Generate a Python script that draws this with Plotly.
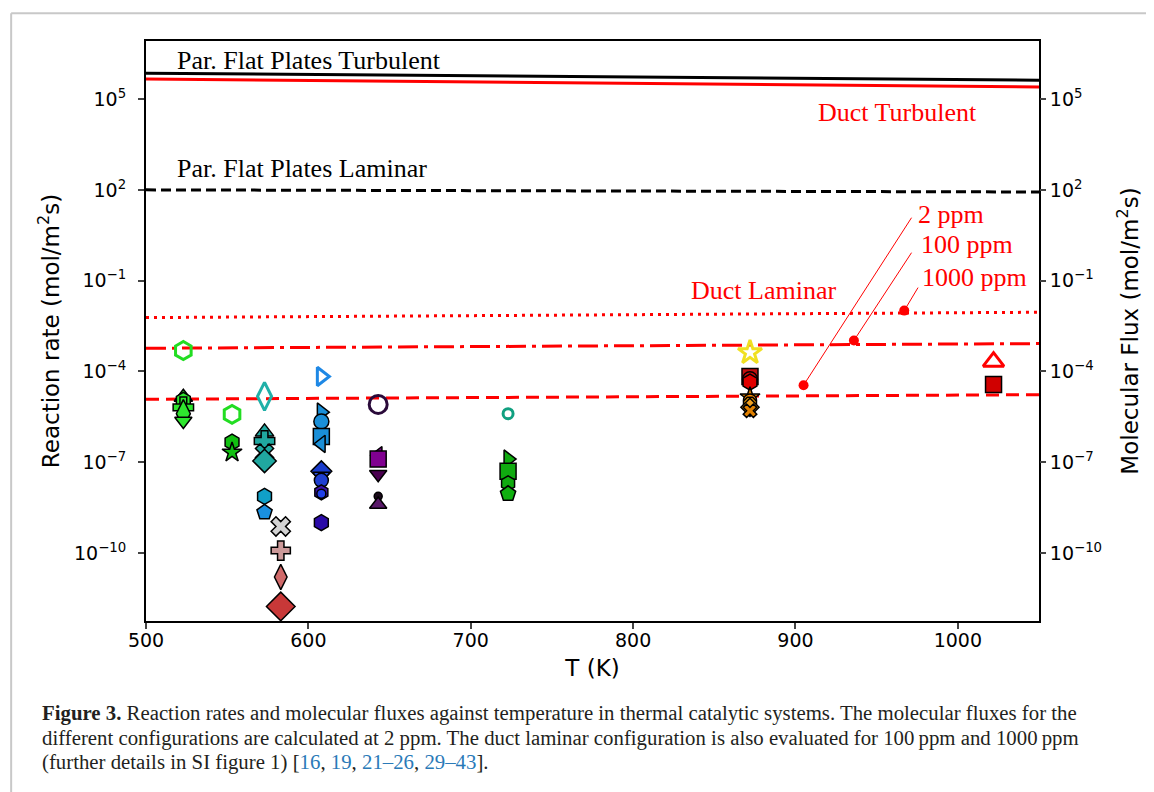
import plotly.graph_objects as go

# ---------------- data ----------------
# model lines (value at T = 500 K and T = 1050 K)
line_T = [500, 1050]
ppt_turbulent = [7.2e5, 4.2e5]
duct_turbulent = [4.6e5, 2.5e5]
ppl_laminar = [100, 85]
duct_laminar_1000 = [6.0e-3, 9.0e-3]
duct_laminar_100 = [5.8e-4, 8.3e-4]
duct_laminar_2 = [1.2e-5, 1.7e-5]

# annotated points on duct laminar lines
ppm_labels = ["2 ppm", "100 ppm", "1000 ppm"]
ppm_point_T = [905, 936, 967]
ppm_point_val = [3.5e-5, 1.05e-3, 1.02e-2]

# literature reaction rates
rate_T = [523, 523, 523, 523, 523, 523,
          553, 553, 553,
          573, 573, 573, 573, 573, 573, 573,
          583, 583, 583, 583,
          608, 608, 608, 608, 608, 608, 608, 608, 608, 608, 608,
          643, 643, 643, 643, 643, 643,
          723, 723, 723, 723, 723,
          872, 872, 872, 872, 872, 872, 872, 872, 872,
          1022, 1022]
rate_val = [4.9e-4, 1.4e-5, 1.1e-5, 6.5e-6, 4.0e-6, 2.3e-6,
            3.8e-6, 4.6e-7, 2.1e-7,
            1.5e-5, 1.0e-6, 5.0e-7, 2.0e-7, 1.1e-7, 7.4e-9, 2.2e-9,
            7.5e-10, 1.2e-10, 1.6e-11, 1.7e-12,
            6.8e-5, 4.5e-6, 2.2e-6, 7.0e-7, 4.0e-7, 5.0e-8, 3.5e-8, 2.5e-8, 1.0e-8, 9.0e-9, 1.0e-9,
            8.1e-6, 1.7e-7, 1.26e-7, 4.0e-8, 7.4e-9, 4.0e-9,
            4.0e-6, 1.26e-7, 5.0e-8, 2.0e-8, 9.0e-9,
            4.2e-4, 6.8e-5, 5.5e-5, 4.4e-5, 1.4e-5, 1.1e-5, 8.5e-6, 6.5e-6, 5.0e-6,
            2.1e-4, 3.7e-5]

# marker styles (one per literature point)
rate_symbol = ["hexagon-open", "triangle-up", "hexagon", "cross", "diamond-tall", "triangle-down",
               "hexagon-open", "hexagon", "star",
               "diamond-tall-open", "triangle-up", "cross", "x", "diamond", "hexagon", "pentagon",
               "x", "cross", "diamond-tall", "diamond",
               "triangle-right-open", "triangle-right", "circle", "square", "triangle-left",
               "diamond", "triangle-down", "circle", "hexagon", "circle", "hexagon",
               "circle-open", "triangle-left", "square", "triangle-down", "circle", "triangle-up",
               "circle-open", "triangle-right", "square", "hexagon", "pentagon",
               "star-open", "square", "circle", "hexagon", "star", "circle", "octagon", "diamond", "x",
               "triangle-up-open", "square"]
rate_color = ["#22dd22", "#2ee62e", "#2ee62e", "#2ee62e", "#2ee62e", "#2ee62e",
              "#22dd22", "#11c011", "#11c011",
              "#20b0a8", "#20a8a0", "#20a8a0", "#20a8a0", "#20a8a0", "#10a0c8", "#1a90e0",
              "#d3d3d3", "#cc9999", "#d06a6a", "#c83838",
              "#1e88e5", "#1a8fd8", "#1a8fd8", "#1a8fd8", "#1a8fd8",
              "#1a3ccc", "#2a50e0", "#1f3fd0", "#3a10a8", "#2040e8", "#2a0aa8",
              "#2a0a3a", "#800090", "#800090", "#4a0050", "#1a0a1a", "#5a1a6a",
              "#10a080", "#10aa10", "#10aa10", "#10aa10", "#10b010",
              "#f0e020", "#c01010", "#d00808", "#e00000", "#e08000", "#ff8c00", "#e09000", "#f0a020", "#e08000",
              "#ff0000", "#d00000"]
rate_size = [18, 16, 16, 17, 20, 15,
             18, 16, 15,
             20, 16, 17, 16, 18, 16, 16,
             17, 16, 18, 22,
             16, 16, 15, 16, 15,
             16, 15, 14, 15, 9, 16,
             18, 15, 16, 15, 8, 15,
             10, 16, 16, 15, 16,
             18, 16, 15, 16, 15, 13, 14, 14, 12,
             18, 16]

# tick labels
y_tickvals = [1e-10, 1e-7, 1e-4, 1e-1, 1e2, 1e5]
y_ticktext = ["10<sup>\u221210</sup>", "10<sup>\u22127</sup>", "10<sup>\u22124</sup>",
              "10<sup>\u22121</sup>", "10<sup>2</sup>", "10<sup>5</sup>"]
x_tickvals = [500, 600, 700, 800, 900, 1000]

# ---------------- figure ----------------
fig = go.Figure()

def add_line(y, color, dash, width=3):
    fig.add_trace(go.Scatter(x=line_T, y=y, mode="lines",
                             line=dict(color=color, dash=dash, width=width),
                             hoverinfo="skip", showlegend=False))

add_line(ppt_turbulent, "black", "solid")
add_line(duct_turbulent, "red", "solid")
add_line(ppl_laminar, "black", "10px,5px")
add_line(duct_laminar_1000, "red", "3px,5px")
add_line(duct_laminar_100, "red", "20px,6px,4px,6px")
add_line(duct_laminar_2, "red", "13px,7px")

# literature points
for T, v, s, c, sz in zip(rate_T, rate_val, rate_symbol, rate_color, rate_size):
    is_open = s.endswith("-open")
    fig.add_trace(go.Scatter(
        x=[T], y=[v], mode="markers",
        marker=dict(symbol=s, size=sz, color=c,
                    line=dict(color=c if is_open else "black", width=3 if is_open else 1.5)),
        hoverinfo="skip", showlegend=False))

serif = "Liberation Serif"

# ppm labels + leader lines
label_T = [971.5, 971.5, 975.5]
label_logv = [1.08, -0.076, -1.23]
text_T = [974, 976, 977]
text_logv = [1.18, 0.19, -0.90]
for lab, pT, pv, lT, lv, tT, tv in zip(ppm_labels, ppm_point_T, ppm_point_val,
                                       label_T, label_logv, text_T, text_logv):
    fig.add_trace(go.Scatter(x=[pT, lT], y=[pv, 10 ** lv], mode="lines",
                             line=dict(color="red", width=1), hoverinfo="skip", showlegend=False))
    fig.add_trace(go.Scatter(x=[pT], y=[pv], mode="markers",
                             marker=dict(color="red", size=10, symbol="circle"),
                             hoverinfo="skip", showlegend=False))
    fig.add_annotation(x=tT, y=tv, text=lab, showarrow=False, xanchor="left", yanchor="middle",
                       align="left", font=dict(family=serif, size=26, color="red"))

# dummy trace on the right axis
fig.add_trace(go.Scatter(x=[500], y=[1], yaxis="y2", mode="markers",
                         marker=dict(opacity=0), hoverinfo="skip", showlegend=False))

fig.add_annotation(x=518, y=6.29, text="Par. Flat Plates Turbulent", showarrow=False, align="left",
                   xanchor="left", yanchor="middle", font=dict(family=serif, size=26, color="black"))
fig.add_annotation(x=518, y=2.70, text="Par. Flat Plates Laminar", showarrow=False, align="left",
                   xanchor="left", yanchor="middle", font=dict(family=serif, size=26, color="black"))
fig.add_annotation(x=912.6, y=4.57, text="Duct Turbulent", showarrow=False, align="left",
                   xanchor="left", yanchor="middle", font=dict(family=serif, size=26, color="red"))
fig.add_annotation(x=834.4, y=-1.33, text="Duct Laminar", showarrow=False, align="left",
                   xanchor="left", yanchor="middle", font=dict(family=serif, size=26, color="red"))

# caption
cap_font = dict(family=serif, size=20.8, color="#231f20")
blue = "<span style='color:#2a7ab8'>%s</span>"
cap_lines = [
    "<b>Figure 3.</b> Reaction rates and molecular fluxes against temperature in thermal catalytic systems. The molecular fluxes for the",
    "different configurations are calculated at 2 ppm. The duct laminar configuration is also evaluated for 100\u2009ppm and 1000\u2009ppm",
    "(further details in SI figure 1) [" + blue % "16" + ", " + blue % "19" + ", " + blue % "21\u201326"
    + ", " + blue % "29\u201343" + "].",
]
cap_y = [-0.1586, -0.2017, -0.2431]
for t, yy in zip(cap_lines, cap_y):
    fig.add_annotation(xref="paper", yref="paper", x=-0.1187, y=yy, text=t, showarrow=False,
                       xanchor="left", yanchor="middle", align="left", font=cap_font)

# page border
fig.add_shape(type="line", xref="paper", yref="paper", x0=-0.151, x1=1.2, y0=1.048, y1=1.048,
              line=dict(color="#c8c8c8", width=2))
fig.add_shape(type="line", xref="paper", yref="paper", x0=-0.151, x1=-0.151, y0=1.048, y1=-0.4,
              line=dict(color="#c8c8c8", width=2))

sans = "DejaVu Sans"
yrange = [-12.25, 6.92]
fig.update_layout(
    width=1146, height=784,
    margin=dict(l=138, r=115, t=33, b=171),
    paper_bgcolor="white", plot_bgcolor="white",
    font=dict(family=sans, size=19, color="black"),
    xaxis=dict(range=[500, 1050], tickvals=x_tickvals, ticks="outside", ticklen=6, tickwidth=1.5,
               showline=True, linecolor="black", linewidth=2, mirror=True, showgrid=False,
               zeroline=False, tickfont=dict(family=sans, size=19), ticklabelstandoff=-5,
               title=dict(text="T (K)", font=dict(family=sans, size=23), standoff=10)),
    yaxis=dict(type="log", range=yrange, tickvals=y_tickvals, ticktext=y_ticktext,
               ticks="outside", ticklen=6, tickwidth=1.5, showline=True, linecolor="black",
               linewidth=2, mirror=True, showgrid=False, zeroline=False,
               ticklabelstandoff=8,
               tickfont=dict(family=sans, size=19),
               title=dict(text="Reaction rate (mol/m<sup>2</sup>s)", font=dict(family=sans, size=23),
                          standoff=8)),
    yaxis2=dict(type="log", range=yrange, tickvals=y_tickvals, ticktext=y_ticktext,
                overlaying="y", side="right", ticks="outside", ticklen=6, tickwidth=1.5,
                showline=False, showgrid=False, zeroline=False,
                tickfont=dict(family=sans, size=19),
                title=dict(text="Molecular Flux (mol/m<sup>2</sup>s)", font=dict(family=sans, size=23),
                           standoff=20)),
)

fig.write_html("out.html")
